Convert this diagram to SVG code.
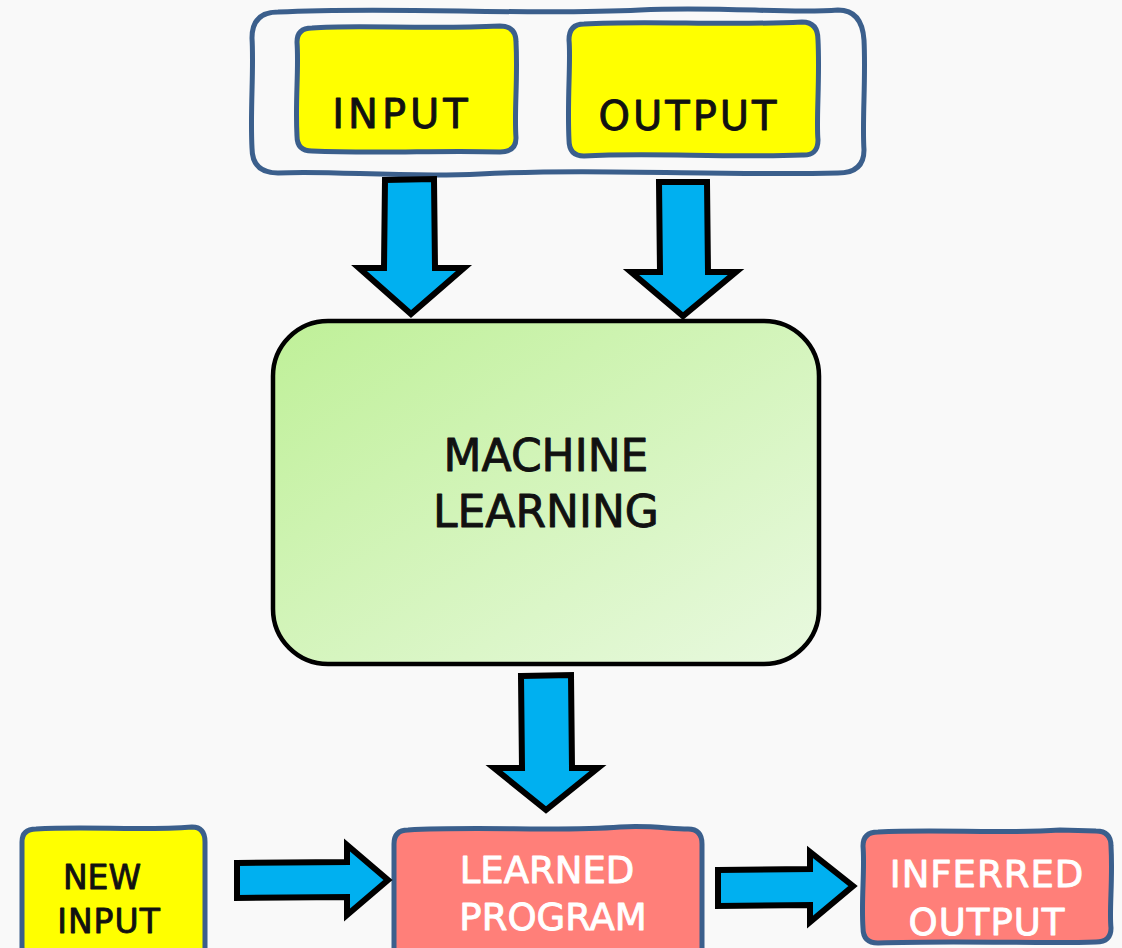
<svg xmlns="http://www.w3.org/2000/svg" width="1122" height="948" viewBox="0 0 1122 948">
  <style>
    .wavy { stroke: #3b5f8c; stroke-width: 5; stroke-linejoin: round; }
    .yellow { fill: #ffff00; }
    .red { fill: #ff7f79; }
    .arrow { fill: #00b0f0; stroke: #000; stroke-width: 6; stroke-linejoin: miter; }
    .lbl { font-family: "DejaVu Sans", "Liberation Sans", sans-serif; text-anchor: middle; stroke-width: 0.9; stroke-linejoin: round; }
    .dark { fill: #111; stroke: #111; }
    .light { fill: #ffffff; stroke: #ffffff; }
  </style>
  <defs>
    <linearGradient id="mlFill" x1="0" y1="0" x2="1" y2="1">
      <stop offset="0" stop-color="#bff098"/>
      <stop offset="1" stop-color="#e9f9e0"/>
    </linearGradient>
  </defs>

  <rect width="1122" height="948" fill="#f9f9f9"/>

  <!-- training data container -->
  <g id="training-data">
    <path class="wavy" fill="#f9f9f9" d="M 278,12 C 400,6 520,16 640,10 C 720,6 790,14 838,10 Q 862,10 864,40 C 866,80 862,120 864,150 Q 864,173 838,173 C 720,176 600,168 480,174 C 400,178 330,170 278,173 Q 252,173 252,148 C 250,110 254,70 252,38 Q 252,12 278,12 Z"/>
  </g>

  <g id="input">
    <path class="wavy yellow" d="M 312,28 C 360,24 420,30 500,26 Q 516,26 516,42 C 518,80 514,110 516,138 Q 516,152 500,152 C 440,150 380,154 312,151 Q 297,151 297,136 C 295,100 299,70 297,42 Q 297,28 312,28 Z"/>
    <text class="lbl dark" x="402" y="128" font-size="40" letter-spacing="4">INPUT</text>
  </g>

  <g id="output">
    <path class="wavy yellow" d="M 584,24 C 650,20 720,26 802,22 Q 818,22 818,40 C 820,80 816,120 818,140 Q 818,156 802,155 C 720,158 650,152 584,156 Q 569,156 569,140 C 567,100 571,60 569,40 Q 569,24 584,24 Z"/>
    <text class="lbl dark" x="689" y="130" font-size="40" letter-spacing="3">OUTPUT</text>
  </g>

  <g id="machine-learning">
    <rect x="273" y="321" width="546" height="343" rx="55" fill="url(#mlFill)" stroke="#000" stroke-width="4.5"/>
    <text class="lbl dark" x="546" y="471" font-size="44">MACHINE</text>
    <text class="lbl dark" x="546" y="527" font-size="44">LEARNING</text>
  </g>

  <g id="new-input">
    <path class="wavy yellow" d="M 36,829 C 90,826 140,831 192,827 Q 205,827 205,842 L 205,962 L 22,962 L 22,842 Q 22,829 36,829 Z"/>
    <text class="lbl dark" x="102" y="889" font-size="33">NEW</text>
    <text class="lbl dark" x="109" y="933" font-size="33" letter-spacing="1">INPUT</text>
  </g>

  <g id="learned-program">
    <path class="wavy red" d="M 408,830 C 480,826 560,832 620,827 C 650,825 670,829 688,829 Q 702,829 702,844 L 702,962 L 394,962 L 394,844 Q 394,830 408,830 Z"/>
    <text class="lbl light" x="547" y="883" font-size="37">LEARNED</text>
    <text class="lbl light" x="553" y="930" font-size="37">PROGRAM</text>
  </g>

  <g id="inferred-output">
    <path class="wavy red" d="M 878,832 C 940,829 1000,834 1060,830 L 1096,831 Q 1111,831 1111,846 C 1113,880 1109,910 1111,928 Q 1111,942 1096,942 C 1040,944 960,940 878,943 Q 863,943 863,928 C 861,900 865,870 863,846 Q 863,832 878,832 Z"/>
    <text class="lbl light" x="987" y="887" font-size="37" letter-spacing="1">INFERRED</text>
    <text class="lbl light" x="987" y="935" font-size="37" letter-spacing="1">OUTPUT</text>
  </g>

  <!-- block arrows -->
  <g id="connectors">
    <path class="arrow" d="M 385,180 L 434,179 L 435,268 L 464,268 L 411,314 L 359,268 L 384,268 Z"/>
    <path class="arrow" d="M 659,182 L 707,182 L 708,272 L 736,272 L 683,316 L 631,272 L 660,272 Z"/>
    <path class="arrow" d="M 521,676 L 571,675 L 572,768 L 598,768 L 546,810 L 494,768 L 522,768 Z"/>
    <path class="arrow" d="M 237,863 L 347,862 L 347,845 L 388,880 L 347,915 L 347,897 L 237,898 Z"/>
    <path class="arrow" d="M 718,870 L 810,869 L 810,852 L 853,886 L 810,922 L 810,905 L 718,906 Z"/>
  </g>
</svg>
